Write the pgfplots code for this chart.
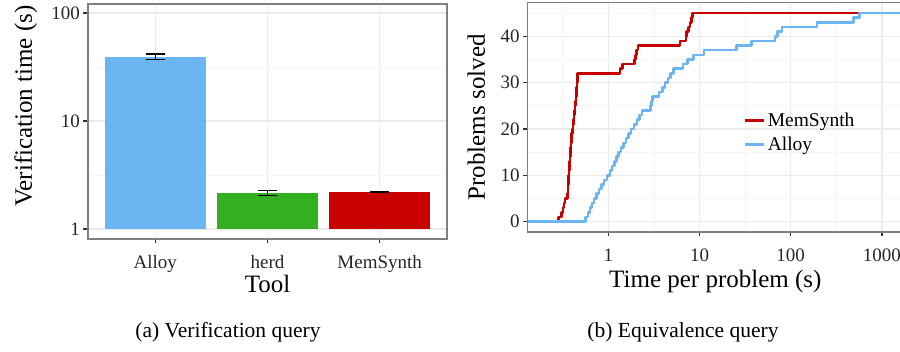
\documentclass[border=0pt]{standalone}
\usepackage{fontspec}
\setmainfont{Liberation Serif}
\usepackage{pgfplots}
\pgfplotsset{compat=1.18}
\definecolor{alloyblue}{HTML}{6BB6F2}
\definecolor{herdgreen}{HTML}{33B020}
\definecolor{msred}{HTML}{C80000}
\definecolor{gridmaj}{HTML}{EBEBEB}
\definecolor{gridmin}{HTML}{F5F5F5}
\definecolor{bordercol}{HTML}{7F7F7F}
\definecolor{tickc}{HTML}{333333}
\pgfplotsset{
  ggstyle/.style={
    scale only axis,
    axis line style={draw=bordercol, line width=1.4pt},
    tick style={draw=tickc, line width=1.4pt},
    major tick length=4.5pt,
    minor tick length=0pt,
    tick align=outside,
    xtick pos=left, ytick pos=left,
    /pgf/number format/assume math mode=true,
    tick label style={font=\fontsize{19}{21}\selectfont, text=black!85},
    label style={font=\fontsize{25}{28}\selectfont},
    major grid style={draw=gridmaj, line width=1.3pt},
    minor grid style={draw=gridmin, line width=0.8pt},
    xticklabel style={anchor=base, yshift=-25pt},
    yticklabel style={anchor=east},
  },
  errstyle/.style={error bars/.cd, y dir=both, y explicit,
    error bar style={black, line width=1.2pt},
    error mark=-,
    error mark options={rotate=90, black, mark size=9.5pt, line width=1.2pt}},
}
\begin{document}
\begin{tikzpicture}
\useasboundingbox (0pt,0pt) rectangle (900pt,352pt);
% ---------- (a) Verification query ----------
\begin{axis}[ggstyle,
  at={(88pt,113pt)}, anchor=south west,
  width=359pt, height=235pt,
  ymode=log, ymin=0.807, ymax=121,
  xmin=0.4, xmax=3.6,
  xtick={1,2,3}, xticklabels={Alloy,herd,MemSynth},
  ytick={1,10,100}, yticklabels={1,10,100},
  minor ytick={3.1623,31.623},
  xmajorgrids, ymajorgrids, yminorgrids,
  xlabel={Tool}, ylabel={Verification time (s)},
  xlabel style={at={(axis description cs:0.5,-0.2298)}, anchor=base},
  ylabel style={at={(axis description cs:-0.156,0.566)}, anchor=base},
  ybar, bar width=0.9,
]
\addplot[fill=alloyblue, draw=none, bar shift=0pt, errstyle]
  coordinates {(1,39.3) +- (0,2.4)};
\addplot[fill=herdgreen, draw=none, bar shift=0pt, errstyle]
  coordinates {(2,2.16) +- (0,0.11)};
\addplot[fill=msred, draw=none, bar shift=0pt, errstyle]
  coordinates {(3,2.21) +- (0,0.02)};
\end{axis}
% ---------- (b) Equivalence query ----------
\begin{axis}[ggstyle,
  at={(527.7pt,120pt)}, anchor=south west,
  width=375.3pt, height=229.3pt,
  xmode=log, xmin=0.1306, xmax=1703,
  ymin=-2.25, ymax=47.25,
  xtick={1,10,100,1000}, xticklabels={1,10,100,1000},
  minor xtick={0.31623,3.1623,31.623,316.23},
  ytick={0,10,20,30,40}, minor ytick={5,15,25,35,45},
  grid=both,
  xlabel={Time per problem (s)}, ylabel={Problems solved},
  xlabel style={at={(axis description cs:0.5,-0.2399)}, anchor=base},
  ylabel style={at={(axis description cs:-0.1138,0.5)}, anchor=base},
  legend style={draw=none, fill=none, at={(axis description cs:0.5763,0.434)},
    anchor=west, inner sep=0pt, row sep=5pt,
    font=\fontsize{19.5}{22}\selectfont},
  legend cell align=left,
  legend image code/.code={\draw[#1] (0pt,0pt) -- (19pt,0pt);},
]
\addplot[msred, line width=2.6pt, line join=round, const plot] coordinates {
(0.1306,0) (0.283,1) (0.308,2) (0.318,3) (0.325,4) (0.335,5) (0.358,6) (0.360,7)
(0.362,8) (0.364,9) (0.366,10) (0.370,11) (0.373,12) (0.376,13) (0.380,14)
(0.383,15) (0.386,16) (0.389,17) (0.392,18) (0.397,19) (0.403,20) (0.410,21)
(0.415,22) (0.420,23) (0.425,24) (0.430,25) (0.435,26) (0.440,27) (0.445,28)
(0.450,29) (0.454,30) (0.458,31) (0.462,32) (1.34,33) (1.42,34) (1.93,35)
(1.98,36) (2.05,37) (2.12,38) (6.1,39) (7.1,40) (7.25,41) (7.6,42) (7.9,43)
(8.2,44) (8.4,45) (565,45)};
\addlegendentry{MemSynth}
\addplot[alloyblue, line width=2.6pt, line join=round, const plot] coordinates {
(0.1306,0) (0.565,1) (0.60,2) (0.63,3) (0.66,4) (0.70,5) (0.74,6) (0.79,7)
(0.84,8) (0.90,9) (0.97,10) (1.04,11) (1.10,12) (1.16,13) (1.22,14) (1.30,15)
(1.38,16) (1.46,17) (1.56,18) (1.66,19) (1.78,20) (1.92,21) (2.06,22) (2.2,23)
(2.35,24) (2.92,25) (2.98,26) (3.05,27) (3.6,28) (3.95,29) (4.2,30) (4.5,31)
(4.8,32) (5.2,33) (6.6,34) (7.4,35) (8.6,36) (11.2,37) (25.6,38) (37.3,39)
(67.3,40) (72,41) (80,42) (195,43) (490,44) (570,45) (1703,45)};
\addlegendentry{Alloy}
\end{axis}
\node[anchor=base, font=\fontsize{21.5}{24}\selectfont] at (228pt,14pt) {(a) Verification query};
\node[anchor=base, font=\fontsize{21.5}{24}\selectfont] at (683pt,14pt) {(b) Equivalence query};
\end{tikzpicture}
\end{document}
